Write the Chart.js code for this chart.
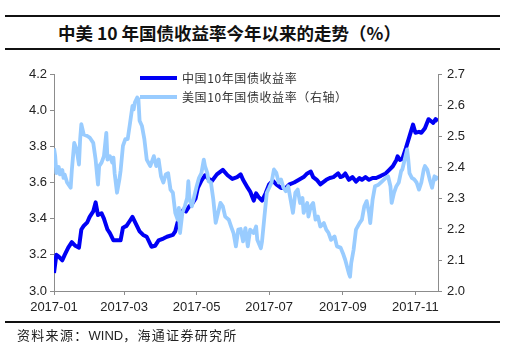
<!DOCTYPE html>
<html>
<head>
<meta charset="utf-8">
<script src="https://cdn.jsdelivr.net/npm/chart.js@4/dist/chart.umd.min.js"></script>
<style>
  html, body { margin: 0; padding: 0; background: #fff; }
  #wrap { position: relative; width: 515px; height: 347px; overflow: hidden; }
  .rule { position: absolute; left: 5px; width: 495px; height: 2px; background: #111; }
  #title { position: absolute; left: 58px; top: 21px; font: bold 17.5px "Noto Sans CJK SC", sans-serif; color: #111; line-height: 24px; white-space: nowrap; }
  #source { position: absolute; left: 17px; top: 326px; font: 13px "Noto Sans CJK SC", sans-serif; letter-spacing: 1.3px; color: #222; line-height: 18px; white-space: nowrap; }
  #source .latin { font-family: "Liberation Sans", Arial, sans-serif; letter-spacing: 0; }
  canvas { position: absolute; left: 0; top: 0; }
</style>
</head>
<body>
<div id="wrap">
  <div class="rule" style="top:15px"></div>
  <div id="title">中美 10 年国债收益率今年以来的走势（%）</div>
  <div class="rule" style="top:48px"></div>
  <canvas id="chart" width="515" height="347"></canvas>
  <div class="rule" style="top:321px"></div>
  <div id="source">资料来源：<span class="latin">WIND</span>，海通证券研究所</div>
</div>
<script>
// Days counted from 2017-01-01
const chinaDay = [
  0, 2, 4, 7, 9, 12, 15, 18, 21, 23,
  25, 28, 30, 33, 35, 37, 40, 42, 45, 47,
  50, 53, 56, 58, 61, 64, 66, 69, 72, 75,
  78, 82, 85, 88, 92, 95, 100, 102, 104, 106,
  109, 111, 114, 116, 119, 121, 124, 127, 130, 133,
  137, 142, 146, 150, 154, 157, 159, 163, 165, 168,
  170, 172, 175, 178, 181, 184, 187, 191, 195, 198,
  202, 206, 210, 213, 216, 218, 221, 224, 229, 232,
  235, 239, 241, 243, 245, 248, 251, 254, 257, 259,
  262, 265, 268, 271, 275, 279, 282, 285, 288, 289,
  291, 293, 296, 299, 302, 304, 307, 309, 312, 315,
  317, 319, 321, 323
];
const chinaYield = [
  3.10, 3.20, 3.19, 3.17, 3.20, 3.24, 3.27, 3.25, 3.24, 3.34,
  3.36, 3.38, 3.41, 3.44, 3.49, 3.42, 3.43, 3.40, 3.34, 3.32,
  3.28, 3.28, 3.28, 3.35, 3.36, 3.39, 3.41, 3.37, 3.33, 3.31,
  3.30, 3.245, 3.25, 3.28, 3.29, 3.30, 3.31, 3.33, 3.38, 3.42,
  3.45, 3.44, 3.47, 3.48, 3.51, 3.57, 3.61, 3.64, 3.62, 3.61,
  3.645, 3.67, 3.64, 3.62, 3.63, 3.645, 3.615, 3.57, 3.55, 3.50,
  3.54, 3.52, 3.50, 3.54, 3.59, 3.61, 3.59, 3.57, 3.57, 3.59,
  3.60, 3.615, 3.63, 3.65, 3.66, 3.63, 3.615, 3.59, 3.615, 3.625,
  3.63, 3.65, 3.63, 3.635, 3.65, 3.615, 3.63, 3.605, 3.625, 3.615,
  3.63, 3.615, 3.625, 3.625, 3.637, 3.65, 3.67, 3.69, 3.725, 3.745,
  3.725, 3.73, 3.79, 3.855, 3.92, 3.875, 3.88, 3.875, 3.90, 3.95,
  3.94, 3.93, 3.95, 3.94
];

const usDay = [
  0, 1, 2, 4, 5, 7, 8, 9, 11, 14,
  15, 17, 19, 21, 22, 23, 25, 28, 30, 33,
  35, 37, 38, 40, 42, 44, 45, 47, 49, 50,
  51, 53, 55, 56, 58, 60, 62, 64, 66, 67,
  68, 70, 71, 72, 74, 76, 78, 81, 84, 86,
  88, 90, 92, 94, 96, 98, 100, 102, 104, 105,
  106, 108, 110, 112, 113, 114, 116, 118, 120, 122,
  124, 126, 127, 129, 130, 132, 134, 136, 138, 140,
  142, 144, 147, 149, 151, 153, 155, 157, 159, 161,
  163, 165, 168, 170, 171, 174, 175, 177, 179, 181,
  183, 185, 187, 189, 191, 193, 195, 197, 199, 201,
  203, 205, 207, 209, 210, 213, 214, 216, 218, 220,
  222, 224, 227, 229, 231, 233, 236, 238, 241, 243,
  245, 248, 249, 250, 252, 254, 257, 259, 261, 263,
  265, 266, 268, 270, 273, 276, 279, 281, 283, 284,
  286, 288, 290, 292, 293, 295, 297, 298, 299, 301,
  303, 305, 307, 309, 311, 312, 314, 316, 318, 320,
  321, 323
];
const usYield = [
  2.46, 2.435, 2.38, 2.40, 2.376, 2.39, 2.365, 2.376, 2.35, 2.333,
  2.39, 2.478, 2.457, 2.408, 2.49, 2.538, 2.505, 2.50, 2.495, 2.478,
  2.424, 2.343, 2.403, 2.414, 2.435, 2.51, 2.424, 2.435, 2.414, 2.43,
  2.38, 2.317, 2.36, 2.387, 2.468, 2.49, 2.49, 2.543, 2.597, 2.586,
  2.608, 2.624, 2.619, 2.549, 2.532, 2.49, 2.424, 2.403, 2.435, 2.403,
  2.424, 2.37, 2.35, 2.376, 2.38, 2.327, 2.317, 2.252, 2.23, 2.268,
  2.187, 2.252, 2.273, 2.30, 2.354, 2.295, 2.273, 2.306, 2.338, 2.365,
  2.38, 2.424, 2.403, 2.38, 2.354, 2.35, 2.295, 2.22, 2.252, 2.284,
  2.273, 2.24, 2.23, 2.208, 2.187, 2.144, 2.198, 2.20, 2.16, 2.203,
  2.144, 2.198, 2.187, 2.208, 2.165, 2.138, 2.16, 2.24, 2.317, 2.333,
  2.35, 2.392, 2.381, 2.35, 2.36, 2.333, 2.322, 2.338, 2.295, 2.252,
  2.317, 2.327, 2.284, 2.30, 2.252, 2.284, 2.24, 2.273, 2.284, 2.23,
  2.24, 2.208, 2.219, 2.198, 2.187, 2.165, 2.176, 2.144, 2.14, 2.122,
  2.10, 2.057, 2.046, 2.09, 2.133, 2.198, 2.219, 2.23, 2.273, 2.29,
  2.252, 2.219, 2.295, 2.338, 2.343, 2.354, 2.365, 2.37, 2.338, 2.284,
  2.317, 2.338, 2.35, 2.387, 2.392, 2.424, 2.457, 2.424, 2.38, 2.365,
  2.36, 2.35, 2.327, 2.35, 2.392, 2.403, 2.392, 2.36, 2.333, 2.37,
  2.36, 2.37
];

// Month ticks on the time axis
const monthTickDay = [0, 59, 120, 181, 243, 304];
const monthTickLabel = ['2017-01', '2017-03', '2017-05', '2017-07', '2017-09', '2017-11'];

const leftTicks = [3.0, 3.2, 3.4, 3.6, 3.8, 4.0, 4.2];
const rightTicks = [2.0, 2.1, 2.2, 2.3, 2.4, 2.5, 2.6, 2.7];

const seriesNames = ['中国10年国债收益率', '美国10年国债收益率（右轴）'];
const chinaColor = '#0000F5';
const usColor = '#99CCFF';

const axisColor = '#8c8c8c';
const tickFont = { family: '"Liberation Sans", Arial, sans-serif', size: 13 };

// Two-row legend sitting inside the plot near the top
const insideLegend = {
  id: 'insideLegend',
  afterDraw(chart) {
    const ctx = chart.ctx;
    const rows = [
      { y: 78, color: chinaColor, text: seriesNames[0] },
      { y: 97, color: usColor, text: seriesNames[1] }
    ];
    ctx.save();
    rows.forEach(r => {
      ctx.strokeStyle = r.color;
      ctx.lineWidth = 4;
      ctx.lineCap = 'butt';
      ctx.beginPath();
      ctx.moveTo(140, r.y);
      ctx.lineTo(177, r.y);
      ctx.stroke();
      ctx.fillStyle = '#333';
      ctx.font = '12px "Noto Sans CJK SC", sans-serif';
      ctx.letterSpacing = '0.6px';
      ctx.textBaseline = 'middle';
      ctx.textAlign = 'left';
      ctx.fillText(r.text, 182, r.y);
    });
    ctx.restore();
  }
};

new Chart(document.getElementById('chart'), {
  type: 'line',
  data: {
    datasets: [
      {
        label: seriesNames[0],
        data: chinaDay.map((d, i) => ({ x: d, y: chinaYield[i] })),
        yAxisID: 'yLeft',
        borderColor: chinaColor,
        borderWidth: 4,
        borderJoinStyle: 'round',
        pointRadius: 0,
        tension: 0,
        order: 1
      },
      {
        label: seriesNames[1],
        data: usDay.map((d, i) => ({ x: d, y: usYield[i] })),
        yAxisID: 'yRight',
        borderColor: usColor,
        borderWidth: 3.8,
        borderJoinStyle: 'round',
        pointRadius: 0,
        tension: 0,
        order: 0
      }
    ]
  },
  options: {
    responsive: false,
    animation: false,
    devicePixelRatio: 1,
    layout: { padding: { top: 74, left: 0, right: 0, bottom: 0 } },
    plugins: { legend: { display: false }, tooltip: { enabled: false } },
    scales: {
      x: {
        type: 'linear',
        min: 0,
        max: 323,
        afterBuildTicks(scale) { scale.ticks = monthTickDay.map(v => ({ value: v })); },
        afterFit(scale) { scale.height = 56; },
        ticks: {
          callback(v) { const i = monthTickDay.indexOf(v); return i >= 0 ? monthTickLabel[i] : ''; },
          font: tickFont, color: '#222', padding: 5, maxRotation: 0, autoSkip: false
        },
        grid: { drawOnChartArea: false, tickLength: 4, color: axisColor },
        border: { color: axisColor, width: 1 }
      },
      yLeft: {
        position: 'left',
        min: 3.0,
        max: 4.2,
        afterBuildTicks(scale) { scale.ticks = leftTicks.map(v => ({ value: v })); },
        afterFit(scale) { scale.width = 54; },
        ticks: { callback: v => v.toFixed(1), font: tickFont, color: '#222', padding: 3 },
        grid: { drawOnChartArea: false, tickLength: 4, color: axisColor },
        border: { color: axisColor, width: 1 }
      },
      yRight: {
        position: 'right',
        min: 2.0,
        max: 2.7,
        afterBuildTicks(scale) { scale.ticks = rightTicks.map(v => ({ value: v })); },
        afterFit(scale) { scale.width = 77; },
        ticks: { callback: v => v.toFixed(1), font: tickFont, color: '#222', padding: 5 },
        grid: { drawOnChartArea: false, tickLength: 4, color: axisColor },
        border: { color: axisColor, width: 1 }
      }
    }
  },
  plugins: [insideLegend]
});
</script>
</body>
</html>
